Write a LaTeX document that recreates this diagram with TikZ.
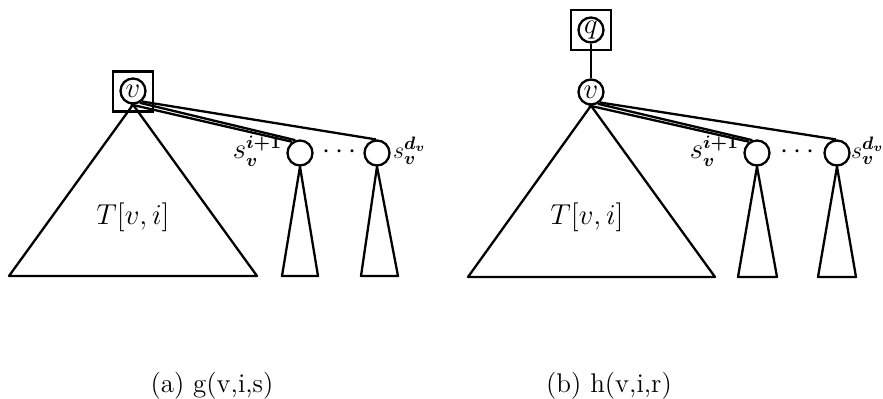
\documentclass[tikz,border=0pt]{standalone}
\usepackage{amsmath}
\begin{document}
\begin{tikzpicture}[x=0.5pt,y=-0.5pt,
  every node/.style={font=\fontsize{13.5}{16}\selectfont},
  ln/.style={line width=1.15pt, line join=round},
  circ/.style={draw, circle, line width=1.15pt, minimum size=12.5pt, inner sep=0pt},
  sqbox/.style={draw, rectangle, line width=1.15pt, minimum size=20pt, inner sep=0pt},
  lbl/.style={inner sep=0pt},
  lblsm/.style={inner sep=0pt, font=\fontsize{13}{15}\selectfont}]
\useasboundingbox (0,0) rectangle (883,399);
% ---------- panel (a) ----------
\node[sqbox] (aq) at (133,91.5) {};
\node[circ] (av) at (133,91) {$v$};
\node[circ] (as1) at (300,153) {};
\node[circ] (asd) at (377,153) {};
\coordinate (ab1) at (9,276);
\coordinate (ab2) at (257,276);
\coordinate (ac1) at (282,276);
\coordinate (ac2) at (318,276);
\coordinate (ad1) at (361,276);
\coordinate (ad2) at (398,276);
\draw[ln] (av.south) -- (ab1) -- (ab2) -- cycle;
\draw[ln] (as1.south) -- (ac1) -- (ac2) -- cycle;
\draw[ln] (asd.south) -- (ad1) -- (ad2) -- cycle;
\draw[ln] (av.-100) -- (as1.125);
\draw[ln] (av.-60) -- (as1.110);
\draw[ln] (av.-50) -- (asd.95);
\node[lbl, anchor=east] (as1l) at ([xshift=-2pt,yshift=1pt]as1.west) {$s_{\boldsymbol{v}}^{\boldsymbol{i+1}}$};
\node[lblsm, anchor=west] (asdl) at ([xshift=1pt,yshift=1pt]asd.east) {$s_{\boldsymbol{v}}^{\boldsymbol{d_v}}$};
\node (adots) at (342,152) {$\cdots$};
\node (aT) at (133,217) {$T[v,i]$};
\node (acap) at (212,386) {(a) g(v,i,s)};
% ---------- panel (b) ----------
\node[sqbox] (bq) at (591,30) {};
\node[circ] (bqc) at (591,30) {$q$};
\node[circ] (bv) at (591,92) {$v$};
\draw[ln] (bqc) -- (bv);
\node[circ] (bs1) at (757,153) {};
\node[circ] (bsd) at (837,153) {};
\coordinate (bb1) at (468,277);
\coordinate (bb2) at (715,277);
\coordinate (bc1) at (738,277);
\coordinate (bc2) at (777,277);
\coordinate (bd1) at (818,277);
\coordinate (bd2) at (856,277);
\draw[ln] (bv.south) -- (bb1) -- (bb2) -- cycle;
\draw[ln] (bs1.south) -- (bc1) -- (bc2) -- cycle;
\draw[ln] (bsd.south) -- (bd1) -- (bd2) -- cycle;
\draw[ln] (bv.-100) -- (bs1.125);
\draw[ln] (bv.-60) -- (bs1.110);
\draw[ln] (bv.-50) -- (bsd.95);
\node[lbl, anchor=east] (bs1l) at ([xshift=-2pt,yshift=1pt]bs1.west) {$s_{\boldsymbol{v}}^{\boldsymbol{i+1}}$};
\node[lblsm, anchor=west] (bsdl) at ([xshift=0pt,yshift=1pt]bsd.east) {$s_{\boldsymbol{v}}^{\boldsymbol{d_v}}$};
\node (bdots) at (800,152) {$\cdots$};
\node (bT) at (587,217) {$T[v,i]$};
\node (bcap) at (609,386) {(b) h(v,i,r)};
\end{tikzpicture}
\end{document}
